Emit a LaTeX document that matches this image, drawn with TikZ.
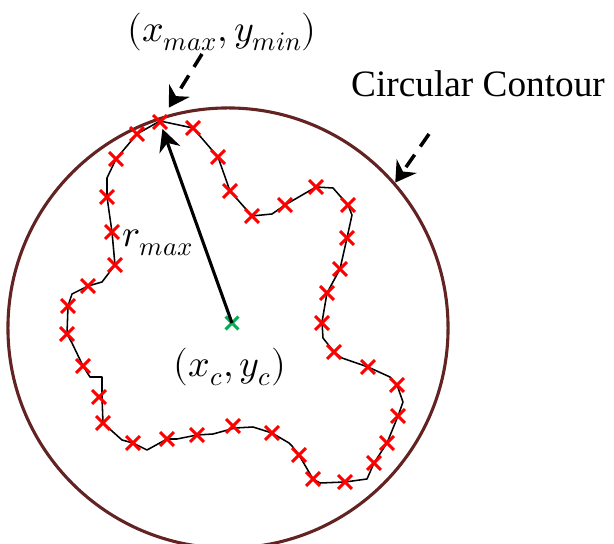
\documentclass[tikz,border=0pt]{standalone}
\usepackage{fontspec}
\usepackage{unicode-math}
\setmathfont{Latin Modern Math}
\newfontfamily\timesfont{Liberation Serif}
\usetikzlibrary{arrows.meta, shapes.misc}
\definecolor{ctred}{RGB}{255,0,0}
\definecolor{ctgreen}{RGB}{0,176,80}
\definecolor{ctbrown}{RGB}{99,35,35}

\begin{document}
\begin{tikzpicture}[x=0.025cm, y=-0.025cm,
  redx/.style={cross out, draw=ctred, line width=2.1pt, minimum size=0.27cm, inner sep=0pt},
  greenx/.style={cross out, draw=ctgreen, line width=2.1pt, minimum size=0.25cm, inner sep=0pt},
  mathlab/.style={font=\fontsize{27}{32}\selectfont, inner sep=0pt},
  dasharrow/.style={-{Stealth[length=0.5cm, width=0.6cm]}, line width=2.5pt,
    dash pattern=on 0.38cm off 0.25cm}]
  \useasboundingbox (0,0) rectangle (614,544);
  % circular contour
  \node[circle, draw=ctbrown, line width=2.2pt, minimum size=11cm, inner sep=0pt] (circ) at (228,328) {};
  % object outline
  \draw[line width=1.1pt, line join=round]
    (160,121) -- (193,128) -- (218,157) -- (230,191) -- (252,216) -- (272,214)
    -- (285,205) -- (316,187) -- (333,188) -- (348,205) -- (352,215) -- (347,238)
    -- (340,269) -- (327,293) -- (322,322) -- (323,338) -- (334,352) -- (342,358)
    -- (368,367) -- (390,377) -- (397,385) -- (403,402) -- (398,416) -- (387,443)
    -- (374,463) -- (367,479) -- (345,482) -- (320,483) -- (313,479) -- (299,455)
    -- (292,446) -- (289,443) -- (272,433) -- (253,427) -- (235,428) -- (213,434)
    -- (197,435) -- (177,439) -- (167,439) -- (147,450) -- (133,443) -- (122,440)
    -- (103,423) -- (102,397) -- (102,377) -- (90,377) -- (83,366) -- (72,343)
    -- (67,334) -- (68,306) -- (72,294) -- (88,286) -- (102,282) -- (115,265)
    -- (112,232) -- (107,197) -- (107,178) -- (116,159) -- (137,134) -- cycle;
  % sample points
  \foreach \px/\py [count=\i] in {160/122, 137/134, 116/159, 107/197, 112/232,
      115/265, 88/286, 68/306, 67/334, 83/366, 99/397, 103/423, 133/443, 167/439,
      197/435, 233/426, 272/433, 299/455, 313/479, 345/482, 374/463, 387/443,
      398/416, 397/385, 368/367, 334/352, 322/323, 327/293, 340/269, 347/238,
      348/205, 316/187, 285/205, 252/216, 230/191, 218/157, 193/128} {
    \node[redx] (s\i) at (\px,\py) {};
  }
  % centre and radius
  \node[greenx] (c) at (232,323) {};
  \draw[-{Stealth[length=0.55cm, width=0.55cm]}, line width=2.2pt] (c.center) -- (s1);
  \node[mathlab] (rlab) at (158,243) {$r_{max}$};
  \node[mathlab] (clab) at (230,367) {$(x_c, y_c)$};
  \node[mathlab] (plab) at (222,32) {$(x_{max}, y_{min})$};
  \node[font=\timesfont\fontsize{26.5}{32}\selectfont, anchor=base] (circlab) at (478,97) {Circular Contour};
  % pointers
  \coordinate (pa) at (202,54);
  \coordinate (ca) at (429,134);
  \draw[dasharrow, shorten >=0.22cm] (pa) -- (s1);
  \draw[dasharrow] (ca) -- (circ.41);
\end{tikzpicture}
\end{document}
